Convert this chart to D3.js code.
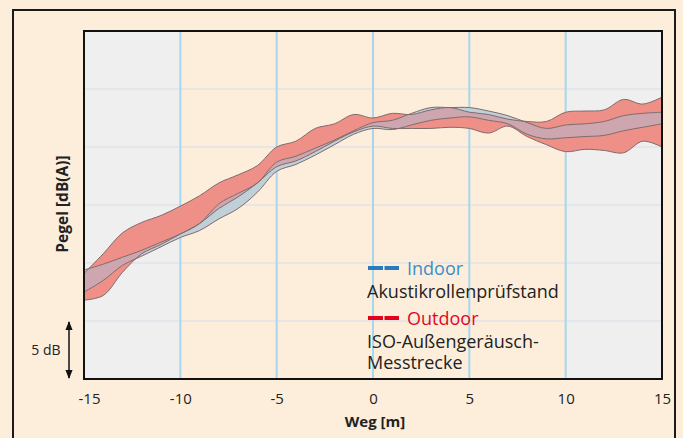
<!DOCTYPE html>
<html>
<head>
<meta charset="utf-8">
<script src="https://cdn.jsdelivr.net/npm/d3@7"></script>
<style>
  body { margin: 0; background: #fdeedc; }
  svg { display: block; font-family: "Open Sans", sans-serif; }
</style>
</head>
<body>
<svg id="chart" width="683" height="438"></svg>
<script>
// Weg in m, Pegel relativ in dB (0 = Unterkante des Diagramms)
const weg = [-15,-14,-13,-12,-11,-10,-9,-8,-7,-6,-5,-4,-3,-2,-1,0,1,2,3,4,5,6,7,8,9,10,11,12,13,14,15];
const outdoorHigh = [9.1,10.8,12.6,13.5,14.1,14.9,15.8,16.9,17.6,18.4,20.0,20.5,21.6,22.0,22.8,22.5,22.9,22.8,23.2,23.4,23.0,22.8,22.4,22.2,22.2,23.0,23.1,23.2,24.1,23.7,24.3];
const outdoorLow  = [6.8,7.2,9.2,10.8,11.6,12.5,13.4,14.7,15.7,16.9,18.3,18.8,19.6,20.5,21.3,21.8,21.6,21.6,21.6,21.7,21.6,21.2,21.8,20.9,20.2,19.6,19.8,19.7,19.5,20.5,20.0];
const indoorHigh  = [9.4,9.9,10.5,11.1,11.8,12.5,13.4,15.1,16.0,16.9,18.7,19.2,19.9,20.6,21.4,22.1,22.3,22.9,23.4,23.4,23.4,23.1,22.7,22.1,21.6,21.9,22.0,22.2,22.7,22.9,23.0];
const indoorLow   = [7.5,8.5,9.8,10.6,11.4,12.2,12.8,13.8,14.7,16.1,17.9,18.5,19.3,20.2,21.1,21.6,21.5,21.9,22.3,22.5,22.6,22.3,22.0,21.1,20.7,20.8,20.9,21.0,21.4,21.7,22.0];

const xTicks = [-15,-10,-5,0,5,10,15];
const xGrid = [-10,-5,0,5,10];
const yGrid = [5,10,15,20,25];
const shaded = [[-15,-10],[10,15]];
const legendNames = ["Indoor","Outdoor"];
const legendText = [["Akustikrollenprüfstand"],["ISO-Außengeräusch-","Messtrecke"]];

const svg = d3.select("#chart");
const x = d3.scaleLinear().domain([-15, 15]).range([84, 662]);
const y = d3.scaleLinear().domain([0, 30]).range([379, 31]);

svg.append("rect").attr("width", 683).attr("height", 438).attr("fill", "#fdeedc");
svg.append("rect").attr("x", 13).attr("y", 10).attr("width", 662).attr("height", 460)
  .attr("fill", "none").attr("stroke", "#1a1a1a").attr("stroke-width", 2);

// grey side zones
svg.selectAll(".zone").data(shaded).enter().append("rect")
  .attr("x", d => x(d[0])).attr("width", d => x(d[1]) - x(d[0]))
  .attr("y", y(30)).attr("height", y(0) - y(30))
  .attr("fill", "#efefef");

svg.selectAll(".hgrid").data(yGrid).enter().append("line")
  .attr("x1", x(-15)).attr("x2", x(15))
  .attr("y1", d => y(d)).attr("y2", d => y(d))
  .attr("stroke", "#dfe3e8").attr("stroke-width", 1.5);

svg.selectAll(".vgrid").data(xGrid).enter().append("line")
  .attr("x1", d => x(d)).attr("x2", d => x(d))
  .attr("y1", y(30)).attr("y2", y(0))
  .attr("stroke", "#a6d7ef").attr("stroke-width", 2);

// bands
const rows = weg.map((w, i) => ({ w: w, oh: outdoorHigh[i], ol: outdoorLow[i], ih: indoorHigh[i], il: indoorLow[i] }));
const curve = d3.curveCatmullRom;
const outdoorArea = d3.area().x(d => x(d.w)).y0(d => y(d.ol)).y1(d => y(d.oh)).curve(curve);
const indoorArea = d3.area().x(d => x(d.w)).y0(d => y(d.il)).y1(d => y(d.ih)).curve(curve);

const defs = svg.append("defs");
defs.append("clipPath").attr("id", "indoorClip").append("path").attr("d", indoorArea(rows));
defs.append("clipPath").attr("id", "plotClip").append("rect")
  .attr("x", x(-15)).attr("y", y(30)).attr("width", x(15) - x(-15)).attr("height", y(0) - y(30));

const bands = svg.append("g").attr("clip-path", "url(#plotClip)");
bands.append("path").attr("d", outdoorArea(rows)).attr("fill", "#ee9088");
bands.append("path").attr("d", indoorArea(rows)).attr("fill", "#bfd0d9");
bands.append("path").attr("d", outdoorArea(rows)).attr("fill", "#cda6b0").attr("clip-path", "url(#indoorClip)");

["oh", "ol", "ih", "il"].forEach(k => {
  bands.append("path")
    .attr("d", d3.line().x(d => x(d.w)).y(d => y(d[k])).curve(curve)(rows))
    .attr("fill", "none").attr("stroke", "#806a6a").attr("stroke-width", 1);
});

// plot frame
svg.append("rect").attr("x", x(-15)).attr("y", y(30))
  .attr("width", x(15) - x(-15)).attr("height", y(0) - y(30))
  .attr("fill", "none").attr("stroke", "#111").attr("stroke-width", 2);

// x axis
const xAxis = svg.append("g").attr("transform", "translate(0," + y(0) + ")")
  .call(d3.axisBottom(x).tickValues(xTicks).tickSize(0).tickPadding(14).tickFormat(d3.format("d")));
xAxis.select(".domain").remove();
xAxis.selectAll("text").attr("font-size", 15).attr("fill", "#222")
  .attr("font-family", "Open Sans, sans-serif")
  .text(d => String(d))
  .attr("dx", d => d === -15 ? 5 : 0);

svg.append("text").attr("x", 375).attr("y", 427).attr("text-anchor", "middle")
  .attr("font-size", 15).attr("font-weight", "bold").attr("fill", "#222").text("Weg [m]");
svg.append("text").attr("transform", "translate(63,204) rotate(-90)").attr("text-anchor", "middle")
  .attr("dy", "0.35em").attr("font-size", 15.5).attr("font-weight", "bold").attr("fill", "#222")
  .text("Pegel [dB(A)]");

// 5 dB scale arrow
defs.append("marker").attr("id", "head").attr("viewBox", "0 0 10 10")
  .attr("refX", 9).attr("refY", 5).attr("markerWidth", 6).attr("markerHeight", 6)
  .attr("orient", "auto-start-reverse")
  .append("path").attr("d", "M0,1 L10,5 L0,9 Z").attr("fill", "#111");
svg.append("line").attr("x1", 69).attr("x2", 69).attr("y1", y(5) + 1).attr("y2", y(0) - 1)
  .attr("stroke", "#111").attr("stroke-width", 1.5)
  .attr("marker-start", "url(#head)").attr("marker-end", "url(#head)");
svg.append("text").attr("x", 46).attr("y", 355).attr("text-anchor", "middle")
  .attr("font-size", 14).attr("fill", "#222").text("5 dB");

// legend
const legColors = ["#2a7bbd", "#e2001a"];
const legTextColors = ["#3a8dca", "#e3061f"];
const legY = [268, 318];
legendNames.forEach((name, i) => {
  svg.append("line").attr("x1", 368).attr("x2", 399).attr("y1", legY[i]).attr("y2", legY[i])
    .attr("stroke", legColors[i]).attr("stroke-width", 4).attr("stroke-dasharray", "15,1.5");
  svg.append("text").attr("x", 407).attr("y", legY[i] + 7).attr("font-size", 18)
    .attr("fill", legTextColors[i]).text(name);
  const sub = svg.append("text").attr("x", 367).attr("y", legY[i] + 30).attr("font-size", 18)
    .attr("fill", "#222");
  legendText[i].forEach((t, j) => {
    sub.append("tspan").attr("x", 367).attr("dy", j === 0 ? 0 : 21).text(t);
  });
});
</script>
</body>
</html>
